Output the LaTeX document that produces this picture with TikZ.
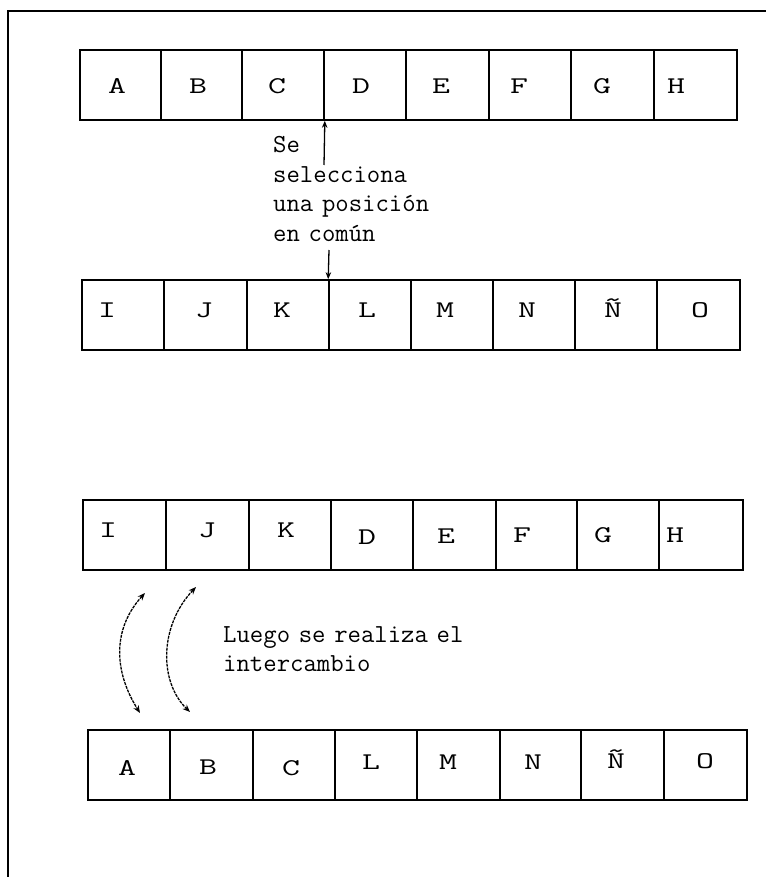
\documentclass[tikz,border=0pt]{standalone}
\usepackage{graphicx}
\usetikzlibrary{arrows.meta}
% wide capitals used inside the array cells
\newcommand{\wch}[1]{\scalebox{1.45}[1]{#1}}
\begin{document}
\begin{tikzpicture}[x=1pt,y=-1pt,
  frame/.style={line width=2.2pt},
  cell/.style={draw, line width=1.6pt, inner sep=0pt, minimum height=70pt},
  letter/.style={inner sep=0pt, text height=15pt, text depth=0pt,
    font=\ttfamily\fontsize{24}{24}\selectfont},
  caption/.style={inner sep=0pt, anchor=base west, align=left, text width=260pt,
    font=\ttfamily\fontsize{26}{29.4}\selectfont},
  pointer/.style={line width=1.3pt, -{Stealth[length=7pt,width=5.5pt]}},
  swap/.style={line width=1.3pt, dash pattern=on 3pt off 1pt,
    {Stealth[length=7.5pt,width=6pt]}-{Stealth[length=7.5pt,width=6pt]}}]
\useasboundingbox (0,0) rectangle (765,877);

% page frame (top and left edges)
\coordinate (frameTL) at (8,11);
\draw[frame] (766,11) -- (frameTL) -- (8,878);

% first parent: A..H
\foreach \l/\r [count=\i] in {80/161,161/242,242/324,324/406,406/489,489/571,571/654,654/737}
  \node[cell, minimum width={(\r-\l)*1pt}] (r1c\i) at ({(\l+\r)/2},85) {};
% second parent: I..O
\foreach \l/\r [count=\i] in {82/164,164/247,247/329,329/411,411/493,493/575,575/657,657/740}
  \node[cell, minimum width={(\r-\l)*1pt}] (r2c\i) at ({(\l+\r)/2},315) {};
% first child
\foreach \l/\r [count=\i] in {83/166,166/249,249/331,331/413,413/496,496/577,577/659,659/743}
  \node[cell, minimum width={(\r-\l)*1pt}] (r3c\i) at ({(\l+\r)/2},535) {};
% second child
\foreach \l/\r [count=\i] in {88/170,170/253,253/335,335/417,417/500,500/581,581/664,664/747}
  \node[cell, minimum width={(\r-\l)*1pt}] (r4c\i) at ({(\l+\r)/2},765) {};

% cell contents
\foreach \x/\y/\t [count=\i] in {117/86/A,198/86/B,277/86/C,361/86/D,441/86/E,519/86/F,602/86/G,676/86/H}
  \node[letter] (t1c\i) at (\x,\y) {\wch{\t}};
\foreach \x/\y/\t [count=\i] in {107/310/I,204/310/J,282/310/K,367/310/L,445/310/M,527/310/N,613/310/Ñ,700/310/O}
  \node[letter] (t2c\i) at (\x,\y) {\wch{\t}};
\foreach \x/\y/\t [count=\i] in {108/530/I,207/530/J,286/530/K,367/537/D,446/536/E,522/535/F,603/535/G,675/535/H}
  \node[letter] (t3c\i) at (\x,\y) {\wch{\t}};
\foreach \x/\y/\t [count=\i] in {127/768/A,208/767/B,291/768/C,371/762/L,448/762/M,533/762/N,616/761/Ñ,705/761/O}
  \node[letter] (t4c\i) at (\x,\y) {\wch{\t}};

% crossover point
\node[caption] (selText) at (273,153) {Se\\selecciona\\una posición\\en común};
\coordinate (upTail) at (324,165);
\coordinate (downTail) at (329,250);
\draw[pointer] (upTail) -- (r1c3.south east);
\draw[pointer] (downTail) -- (r2c4.north west);

% exchange of the heads
\node[caption] (swapText) at (223,642) {Luego se realiza el\\intercambio};
\coordinate (swapAtop) at (145,593);
\coordinate (swapAbot) at (140,713);
\coordinate (swapBtop) at (196,587);
\coordinate (swapBbot) at (190,712);
\draw[swap] (swapAtop) .. controls (113,628) and (113,670) .. (swapAbot);
\draw[swap] (swapBtop) .. controls (159,626) and (159,682) .. (swapBbot);
\end{tikzpicture}
\end{document}
